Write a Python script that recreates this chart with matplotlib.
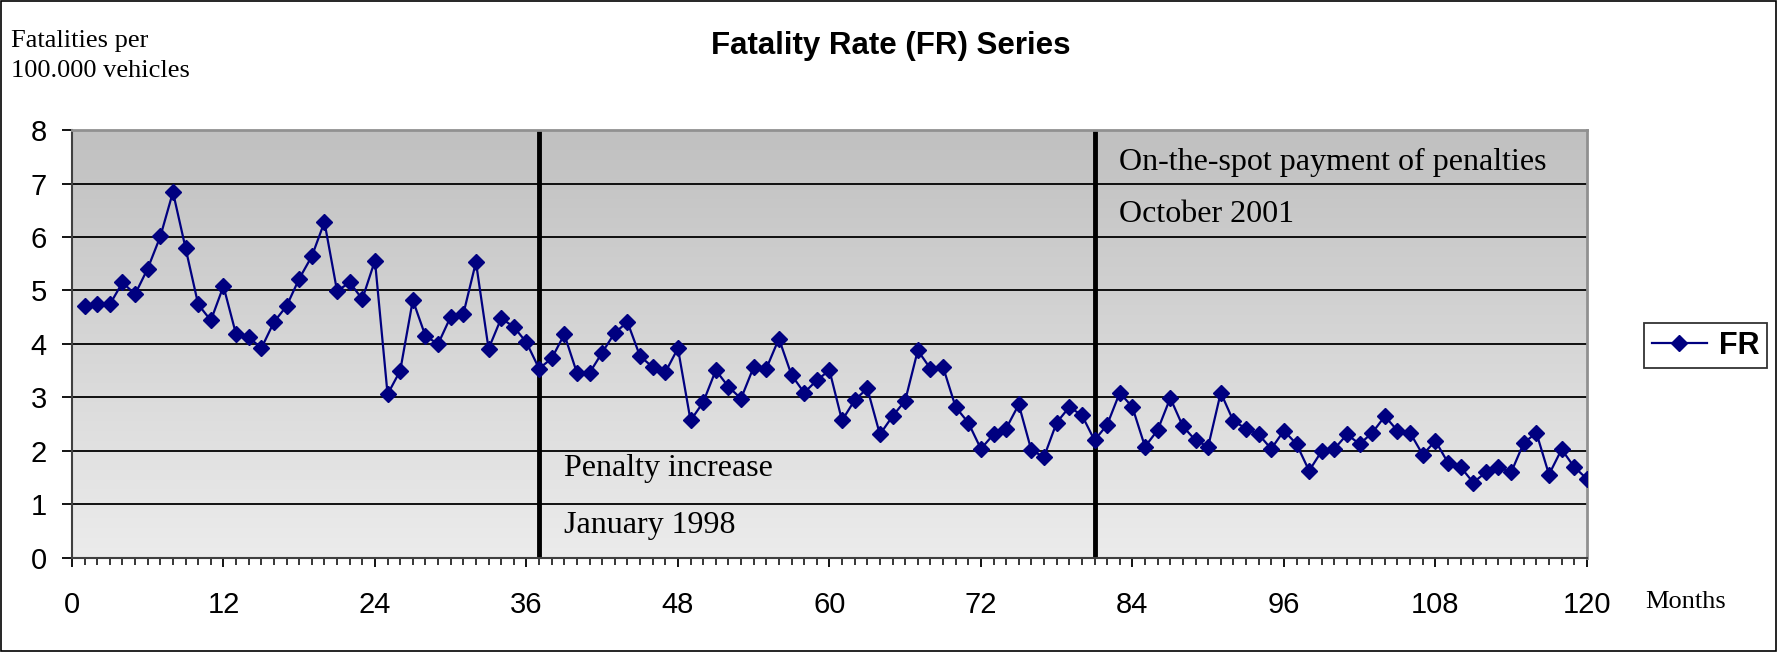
import numpy as np
import matplotlib
matplotlib.use("Agg")
import matplotlib.pyplot as plt
from matplotlib.colors import LinearSegmentedColormap
from matplotlib.patches import Rectangle

# monthly fatality rate, months 1..120
months = list(range(1, 121))
fr = [4.71, 4.74, 4.74, 5.15, 4.93, 5.41, 6.01, 6.84, 5.79, 4.74,
      4.44, 5.08, 4.18, 4.13, 3.92, 4.41, 4.71, 5.22, 5.64, 6.28,
      4.99, 5.15, 4.84, 5.56, 3.06, 3.50, 4.82, 4.15, 4.00, 4.51,
      4.56, 5.53, 3.91, 4.48, 4.32, 4.03, 3.54, 3.73, 4.18, 3.46,
      3.46, 3.84, 4.21, 4.41, 3.77, 3.57, 3.47, 3.92, 2.57, 2.91,
      3.51, 3.20, 2.98, 3.57, 3.54, 4.10, 3.42, 3.09, 3.32, 3.51,
      2.57, 2.95, 3.17, 2.31, 2.65, 2.94, 3.88, 3.54, 3.57, 2.82,
      2.53, 2.04, 2.31, 2.42, 2.87, 2.01, 1.89, 2.53, 2.82, 2.67,
      2.20, 2.49, 3.09, 2.82, 2.08, 2.39, 2.99, 2.46, 2.20, 2.08,
      3.09, 2.56, 2.42, 2.31, 2.04, 2.38, 2.13, 1.63, 2.00, 2.04,
      2.31, 2.13, 2.34, 2.65, 2.38, 2.34, 1.93, 2.19, 1.78, 1.70,
      1.41, 1.60, 1.70, 1.60, 2.15, 2.34, 1.56, 2.03, 1.70, 1.48]

events = [37, 81]
event_text = [("Penalty increase", "January 1998"),
              ("On-the-spot payment of penalties", "October 2001")]

serif = ["Liberation Serif", "DejaVu Serif"]
sans = ["Liberation Sans", "DejaVu Sans"]

fig = plt.figure(figsize=(17.77, 6.52), dpi=100)
ax = fig.add_axes([0.0405, 0.1442, 0.8525, 0.6564])

# grey gradient background
grad = LinearSegmentedColormap.from_list("g", ["#ececec", "#c0c0c0"])
ax.imshow(np.linspace(0, 1, 256).reshape(-1, 1), cmap=grad, origin="lower",
          extent=[0, 120, 0, 8], aspect="auto", zorder=0)

for y in range(1, 8):
    ax.axhline(y, color="black", lw=1.3, zorder=1)

ax.plot(months, fr, color="#000080", lw=1.6, marker="D", markersize=8,
        label="FR", zorder=3)

for x in events:
    ax.axvline(x, color="black", lw=3.5, zorder=2)

ax.text(39.0, 1.68, event_text[0][0], fontsize=23, family=serif, va="center")
ax.text(39.0, 0.6, event_text[0][1], fontsize=23, family=serif, va="center")
ax.text(82.9, 7.4, event_text[1][0], fontsize=23, family=serif, va="center")
ax.text(82.9, 6.42, event_text[1][1], fontsize=23, family=serif, va="center")

ax.set_xlim(0, 120)
ax.set_ylim(0, 8)
ax.set_xticks(range(0, 121, 12))
ax.set_xticks(range(0, 121), minor=True)
ax.set_yticks(range(0, 9))
ax.tick_params(axis="x", which="major", direction="out", length=6.5,
               width=1.3, pad=17, labelsize=21)
ax.tick_params(axis="x", which="minor", direction="out", length=5, width=1.1)
ax.tick_params(axis="y", direction="out", length=7, width=1.3, pad=11,
               labelsize=21)
for lab in ax.get_xticklabels() + ax.get_yticklabels():
    lab.set_family(sans)

for s in ["left", "bottom"]:
    ax.spines[s].set_color("#404040")
    ax.spines[s].set_linewidth(1.5)
for s in ["top", "right"]:
    ax.spines[s].set_color("#909090")
    ax.spines[s].set_linewidth(2)

fig.text(0.501, 0.93, "Fatality Rate (FR) Series", ha="center", va="center",
         fontsize=22.5, fontweight="bold", family=sans)
fig.text(0.006, 0.937, "Fatalities per", ha="left", va="center",
         fontsize=19, family=serif)
fig.text(0.006, 0.891, "100.000 vehicles", ha="left", va="center",
         fontsize=19, family=serif)
fig.text(0.926, 0.077, "Months", ha="left", va="center", fontsize=19,
         family=serif)

leg = fig.legend(loc="center", bbox_to_anchor=(0.9598, 0.47),
                 prop={"family": sans, "weight": "bold", "size": 22},
                 frameon=True, fancybox=False, edgecolor="black",
                 handlelength=1.8, borderpad=0.25, handletextpad=0.4)
leg.get_frame().set_linewidth(1.3)

fig.patches.append(Rectangle((0.0006, 0.0015), 0.9988, 0.997,
                             transform=fig.transFigure, fill=False,
                             edgecolor="black", lw=1.2))

fig.savefig("out.png", dpi=100)
